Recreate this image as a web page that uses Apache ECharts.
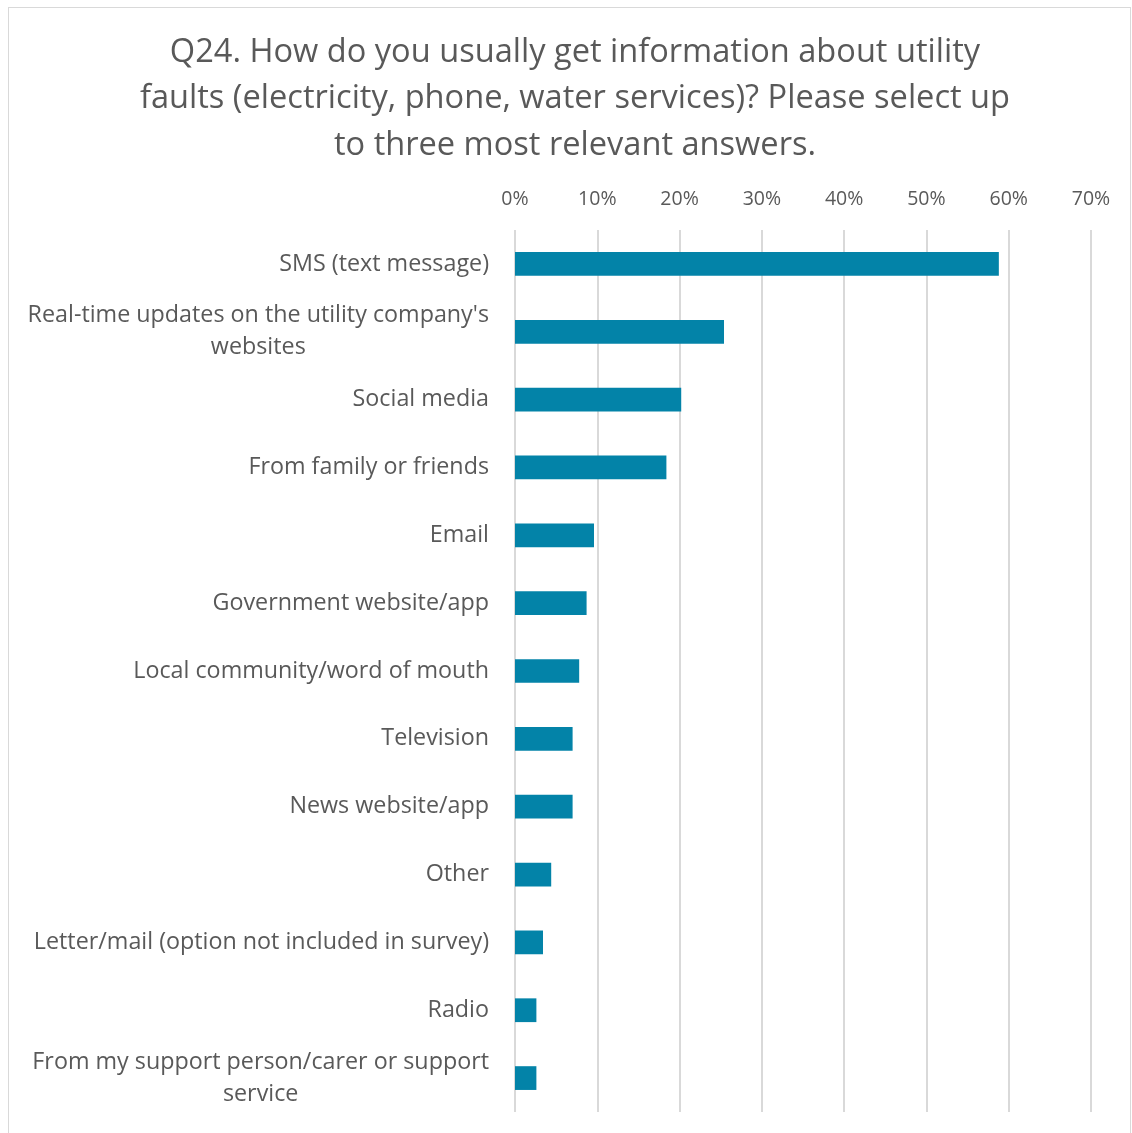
<!DOCTYPE html>
<html>
<head>
<meta charset="utf-8">
<script src="https://cdn.jsdelivr.net/npm/echarts@6/dist/echarts.min.js"></script>
<style>
  html, body { margin: 0; padding: 0; background: #ffffff; }
  #chart { width: 1132px; height: 1133px; }
  #frame { position: absolute; left: 8px; top: 7px; width: 1121px; height: 1140px;
           border: 1px solid #d9d9d9; pointer-events: none; }
</style>
</head>
<body>
<div id="chart"></div>
<div id="frame"></div>
<script>
// Survey answers, in display order (top to bottom)
const categories = [
  "SMS (text message)",
  "Real-time updates on the utility company's\nwebsites",
  "Social media",
  "From family or friends",
  "Email",
  "Government website/app",
  "Local community/word of mouth",
  "Television",
  "News website/app",
  "Other",
  "Letter/mail (option not included in survey)",
  "Radio",
  "From my support person/carer or support\nservice"
];

// Share of respondents selecting each answer
const shares = [0.588, 0.254, 0.202, 0.184, 0.096, 0.087, 0.078, 0.070, 0.070, 0.044, 0.034, 0.026, 0.026];

// Value axis tick range
const axisMin = 0;
const axisMax = 0.7;
const axisStep = 0.1;

const titleText = "Q24. How do you usually get information about utility\n" +
  "faults (electricity, phone, water services)? Please select up\n" +
  "to three most relevant answers.";

const FONT = "Open Sans";
const LABEL_SIZE = 23.3;
const TEXT_COLOR = "#595959";

// Multi-line labels are centred line by line inside a block as wide as their longest line
const ctx = document.createElement("canvas").getContext("2d");
ctx.font = LABEL_SIZE + "px '" + FONT + "'";
function formatLabel(value) {
  const lines = value.split("\n");
  if (lines.length === 1) return value;
  const w = Math.ceil(Math.max.apply(null, lines.map(l => ctx.measureText(l).width)));
  labelRich.ml.width = w;
  return lines.map(l => "{ml|" + l + "}").join("\n");
}
const labelRich = {
  ml: { align: "center", fontFamily: FONT, fontSize: LABEL_SIZE, color: TEXT_COLOR, lineHeight: 32 }
};

const chart = echarts.init(document.getElementById("chart"), null, { renderer: "canvas" });
chart.setOption({
  backgroundColor: "#ffffff",
  animation: false,
  title: {
    text: titleText,
    left: 575,
    top: 29,
    padding: 0,
    textAlign: "center",
    textStyle: {
      fontFamily: FONT,
      fontWeight: "normal",
      fontSize: 32.6,
      color: TEXT_COLOR,
      lineHeight: 46.5
    }
  },
  grid: { left: 515, right: 41, top: 230, bottom: 21, containLabel: false },
  xAxis: {
    type: "value",
    position: "top",
    min: axisMin,
    max: axisMax,
    interval: axisStep,
    axisLine: { show: false },
    axisTick: { show: false },
    axisLabel: {
      margin: 21,
      fontFamily: FONT,
      fontSize: 19.5,
      color: TEXT_COLOR,
      formatter: v => Math.round(v * 100) + "%"
    },
    splitLine: { show: true, lineStyle: { color: "#d9d9d9", width: 2 } }
  },
  yAxis: {
    type: "category",
    inverse: true,
    data: categories,
    axisLine: { show: false },
    axisTick: { show: false },
    axisLabel: {
      margin: 26,
      fontFamily: FONT,
      fontSize: LABEL_SIZE,
      color: TEXT_COLOR,
      lineHeight: 32,
      interval: 0,
      formatter: formatLabel,
      rich: labelRich
    }
  },
  series: [{
    type: "bar",
    data: shares,
    barWidth: "35%",
    itemStyle: { color: "#0383a8" }
  }]
});
</script>
</body>
</html>
